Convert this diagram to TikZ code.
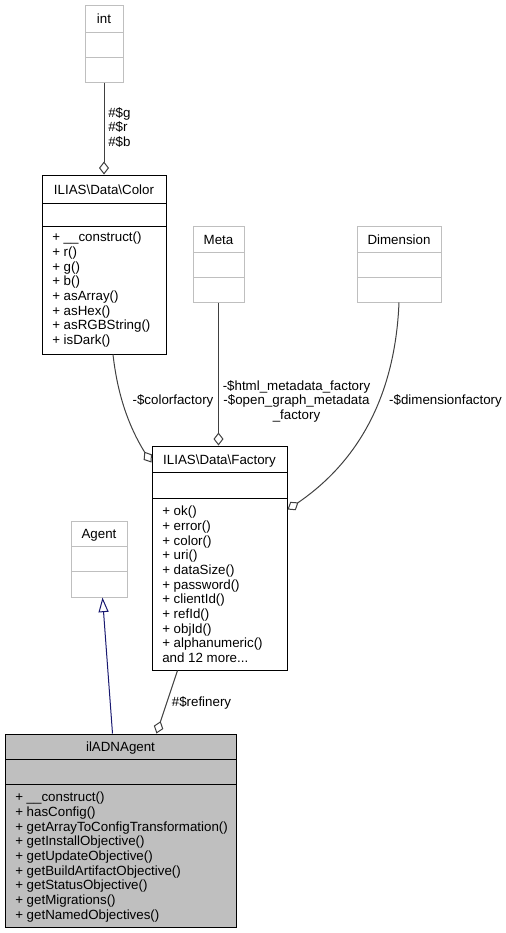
\documentclass[tikz,border=0pt]{standalone}
\usepackage{fontspec}
\setmainfont{Liberation Sans}
\usetikzlibrary{arrows.meta,bending,fit,calc}
\definecolor{grayline}{HTML}{BFBFBF}
\definecolor{edgecol}{HTML}{404040}
\definecolor{navyline}{HTML}{191970}
\begin{document}
\begin{tikzpicture}[x=0.75pt,y=-0.75pt,
  txt/.style={font=\fontsize{10}{11}\selectfont, inner sep=0pt, text=black},
  mlist/.style={txt, align=left, anchor=north west},
  hdr/.style={txt, anchor=base},
  box/.style={inner sep=0pt, line width=0.75pt},
  docbox/.style={box, draw=black},
  undocbox/.style={box, draw=grayline},
  sepblack/.style={line width=0.75pt, draw=black},
  sepgray/.style={line width=0.75pt, draw=grayline},
  edge/.style={draw=edgecol, line width=0.75pt},
  agg/.style={edge, -{Diamond[open, fill=white, length=9.75pt, width=7.5pt, bend]}},
  inh/.style={draw=navyline, line width=0.75pt, -{Triangle[open, fill=white, length=11pt, width=7.5pt]}},
]
\useasboundingbox (0,0) rectangle (506,933);

% int
\node[undocbox, fit={(85,5) (123,82)}] (int) {};
\draw[sepgray] (85,32) -- (123,32);
\draw[sepgray] (85,57) -- (123,57);
\node[hdr] (intt) at (104,23) {int};

% Color
\node[docbox, fit={(42,175) (166,354)}] (color) {};
\draw[sepblack] (42,203) -- (166,203);
\draw[sepblack] (42,226) -- (166,226);
\node[hdr] (colort) at (104,194) {ILIAS\textbackslash Data\textbackslash Color};
\node[mlist] (colorm) at (52,232) {+ \_\_construct()\\+ r()\\+ g()\\+ b()\\+ asArray()\\+ asHex()\\+ asRGBString()\\+ isDark()};

% Meta
\node[undocbox, fit={(193,226) (244,302)}] (meta) {};
\draw[sepgray] (193,252) -- (244,252);
\draw[sepgray] (193,277) -- (244,277);
\node[hdr] (metat) at (218.5,244) {Meta};

% Dimension
\node[undocbox, fit={(357,226) (441,302)}] (dim) {};
\draw[sepgray] (357,252) -- (441,252);
\draw[sepgray] (357,277) -- (441,277);
\node[hdr] (dimt) at (399,244) {Dimension};

% Factory
\node[docbox, fit={(152,446) (287,670)}] (factory) {};
\draw[sepblack] (152,472) -- (287,472);
\draw[sepblack] (152,498) -- (287,498);
\node[hdr] (factoryt) at (219.5,464) {ILIAS\textbackslash Data\textbackslash Factory};
\node[mlist] (factorym) at (162,506) {+ ok()\\+ error()\\+ color()\\+ uri()\\+ dataSize()\\+ password()\\+ clientId()\\+ refId()\\+ objId()\\+ alphanumeric()\\and 12 more...};

% Agent
\node[undocbox, fit={(71,521) (127,597)}] (agent) {};
\draw[sepgray] (71,546) -- (127,546);
\draw[sepgray] (71,571) -- (127,571);
\node[hdr] (agentt) at (99,538) {Agent};

% ilADNAgent
\node[docbox, fill=grayline, fit={(5,734) (236,927)}] (adn) {};
\draw[sepblack] (5,759) -- (236,759);
\draw[sepblack] (5,784) -- (236,784);
\node[hdr] (adnt) at (120.5,751) {ilADNAgent};
\node[mlist] (adnm) at (15,792) {+ \_\_construct()\\+ hasConfig()\\+ getArrayToConfigTransformation()\\+ getInstallObjective()\\+ getUpdateObjective()\\+ getBuildArtifactObjective()\\+ getStatusObjective()\\+ getMigrations()\\+ getNamedObjectives()};

% connectors
\draw[agg] (int.south) -- (color.north);
\node[mlist] (lrgb) at (108,107) {\#\$g\\\#\$r\\\#\$b};

\draw[agg] ($(color.south)+(9,0)$) .. controls (117,390) and (127,428) .. ($(factory.north west)+(0,17)$);
\node[hdr] (lcolor) at (173,404.5) {-\$colorfactory};

\draw[agg] (meta.south) -- (meta.south |- factory.north);
\node[txt, align=center, anchor=north] (lmeta) at (296.5,380) {-\$html\_metadata\_factory\\-\$open\_graph\_metadata\\\_factory};

\draw[agg] (dim.south) .. controls (395,400) and (355,468) .. ($(factory.north east)+(0,64)$);
\node[hdr] (ldim) at (445.5,404.5) {-\$dimensionfactory};

\draw[agg] ($(factory.south west)+(26,0)$) -- ($(adn.north west)+(152,0)$);
\node[hdr] (lref) at (201.5,706.5) {\#\$refinery};

\draw[inh] ($(adn.north west)+(108,0)$) -- ($(agent.south west)+(32,0)$);
\end{tikzpicture}
\end{document}
